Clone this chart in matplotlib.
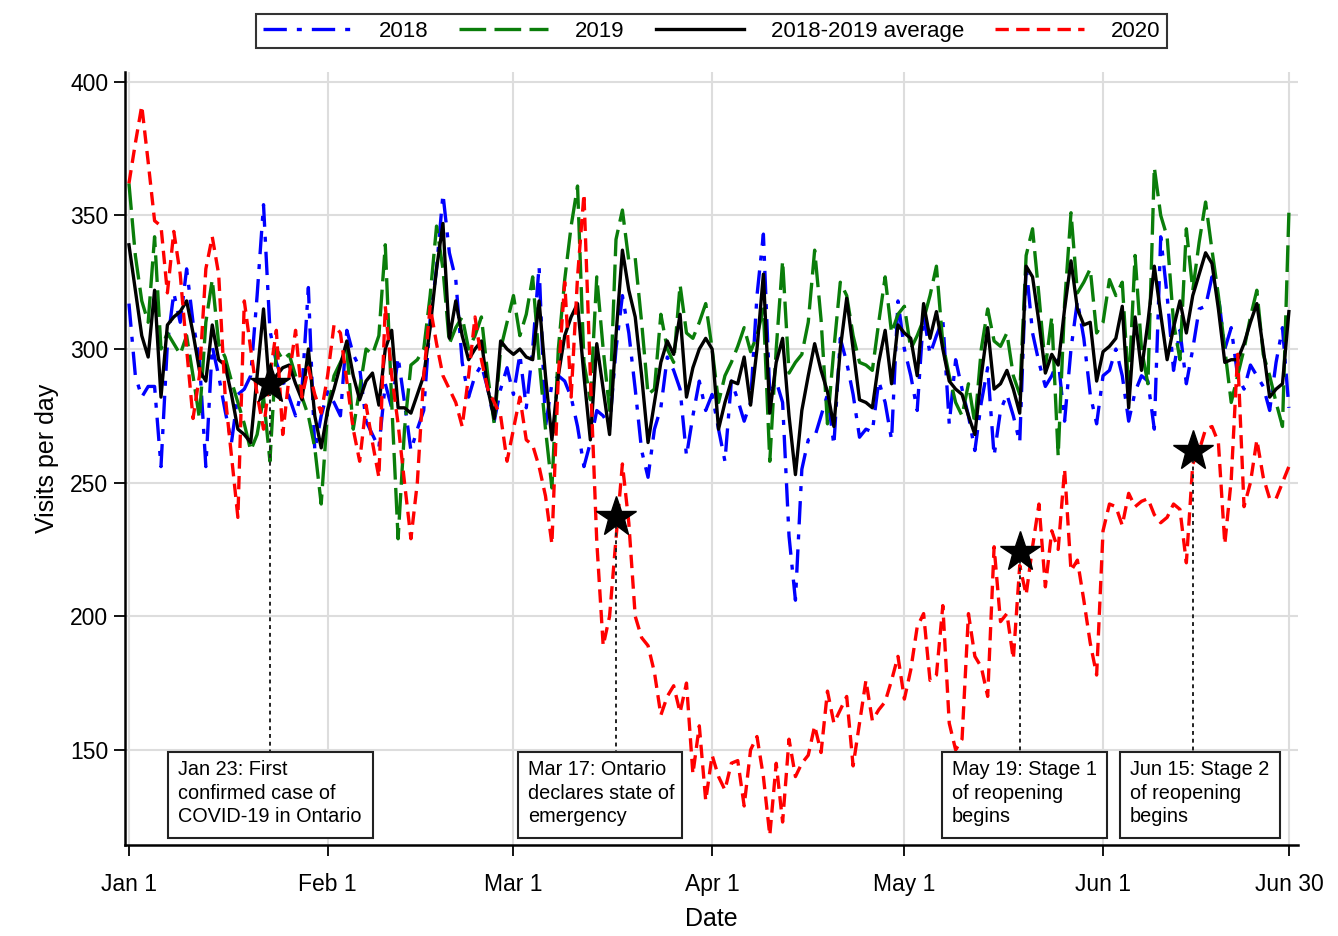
import numpy as np
import matplotlib
matplotlib.use('Agg')
import matplotlib.pyplot as plt
from matplotlib.patches import Rectangle

# daily visits, Jan 1 (day 0) .. Jun 30 (day 181)
visits_2018 = [
    317, 290, 282, 286, 286, 256, 302, 321, 310, 330,
    310, 296, 256, 301, 290, 277, 265, 283, 285, 290,
    320, 354, 307, 295, 288, 282, 275, 285, 323, 262,
    275, 284, 280, 275, 307, 298, 293, 273, 268, 263,
    287, 278, 297, 280, 262, 270, 277, 311, 330, 358,
    336, 326, 295, 282, 290, 294, 285, 273, 285, 293,
    283, 298, 278, 300, 331, 271, 287, 290, 288, 282,
    271, 256, 265, 277, 275, 271, 300, 320, 306, 285,
    262, 252, 270, 278, 297, 292, 285, 260, 275, 288,
    277, 283, 270, 258, 288, 281, 273, 280, 320, 343,
    283, 288, 280, 230, 206, 255, 266, 267, 275, 283,
    264, 304, 295, 283, 267, 270, 269, 288, 280, 266,
    318, 300, 290, 277, 313, 298, 305, 311, 272, 296,
    285, 275, 262, 280, 293, 260, 277, 283, 275, 265,
    331, 306, 295, 286, 290, 296, 273, 300, 318, 304,
    283, 272, 290, 292, 300, 290, 273, 284, 290, 288,
    270, 342, 320, 292, 307, 287, 300, 315, 316, 327,
    320, 300, 308, 290, 285, 294, 290, 286, 277, 295, 308, 278,
]

visits_2019 = [
    362, 335, 318, 310, 342, 300, 306, 302, 298, 305,
    290, 274, 310, 326, 302, 297, 288, 280, 272, 262,
    268, 282, 258, 300, 296, 298, 290, 282, 275, 263,
    242, 277, 290, 295, 300, 270, 285, 300, 298, 305,
    339, 280, 229, 270, 294, 296, 300, 320, 346, 330,
    302, 308, 312, 300, 305, 312, 290, 272, 300, 310,
    320, 305, 313, 327, 296, 270, 248, 300, 326, 346,
    361, 295, 281, 327, 300, 277, 341, 352, 333, 334,
    310, 283, 285, 313, 300, 295, 324, 306, 304, 310,
    317, 300, 280, 290, 295, 301, 308, 299, 305, 315,
    258, 300, 333, 291, 295, 298, 310, 337, 311, 272,
    300, 325, 320, 305, 295, 294, 292, 310, 327, 306,
    313, 316, 300, 305, 311, 320, 331, 302, 290, 280,
    275, 287, 272, 300, 315, 303, 301, 306, 290, 283,
    335, 345, 320, 293, 312, 260, 317, 351, 321, 325,
    330, 306, 310, 326, 320, 325, 285, 335, 300, 287,
    368, 350, 342, 310, 296, 345, 322, 340, 355, 337,
    320, 300, 280, 290, 300, 312, 322, 298, 290, 280, 271, 351,
]

visits_avg = [
    339, 322, 305, 297, 322, 282, 309, 312, 314, 318,
    306, 292, 288, 309, 296, 294, 283, 270, 268, 265,
    290, 315, 283, 290, 293, 294, 287, 281, 300, 275,
    263, 277, 285, 294, 303, 290, 281, 288, 291, 279,
    300, 307, 278, 278, 276, 283, 290, 308, 330, 347,
    304, 318, 305, 296, 300, 303, 285, 274, 303, 300,
    298, 300, 297, 296, 318, 290, 266, 290, 305, 312,
    317, 290, 266, 302, 285, 268, 305, 337, 322, 312,
    290, 265, 280, 295, 303, 298, 313, 282, 293, 300,
    304, 300, 270, 280, 288, 287, 297, 279, 300, 328,
    276, 295, 304, 275, 253, 277, 290, 302, 292, 284,
    271, 300, 319, 300, 281, 280, 278, 295, 307, 287,
    309, 306, 304, 290, 317, 304, 314, 300, 288, 285,
    283, 275, 268, 290, 308, 285, 287, 292, 285, 276,
    331, 327, 310, 291, 298, 294, 315, 333, 315, 309,
    310, 288, 299, 301, 304, 316, 278, 312, 292, 310,
    331, 313, 296, 308, 318, 306, 320, 328, 336, 332,
    315, 295, 296, 296, 302, 310, 317, 300, 282, 285, 287, 314,
]

visits_2020 = [
    362, 377, 391, 370, 348, 346, 321, 344, 328, 300,
    274, 290, 330, 342, 328, 283, 260, 237, 318, 300,
    283, 270, 290, 307, 268, 290, 307, 282, 293, 283,
    276, 290, 309, 306, 288, 270, 258, 279, 265, 252,
    316, 290, 272, 250, 229, 250, 290, 316, 302, 290,
    285, 280, 271, 290, 312, 296, 285, 280, 275, 258,
    270, 282, 266, 264, 256, 245, 227, 290, 325, 282,
    327, 358, 290, 228, 189, 200, 229, 257, 235, 200,
    192, 189, 179, 163, 170, 174, 164, 175, 141, 159,
    131, 148, 140, 135, 145, 146, 129, 150, 155, 140,
    118, 145, 123, 154, 140, 145, 148, 159, 149, 172,
    160, 165, 170, 144, 160, 176, 161, 165, 168, 176,
    185, 169, 180, 196, 201, 176, 178, 204, 160, 150,
    154, 201, 185, 181, 170, 226, 198, 201, 184, 219,
    208, 226, 242, 211, 232, 225, 255, 217, 221, 206,
    190, 178, 232, 242, 241, 234, 246, 241, 243, 244,
    238, 235, 237, 242, 240, 220, 257, 262, 270, 271,
    265, 227, 251, 298, 241, 250, 266, 252, 244, 244, 250, 256,
]

tick_days = [0, 31, 60, 91, 121, 152, 181]
tick_labels = ['Jan 1', 'Feb 1', 'Mar 1', 'Apr 1', 'May 1', 'Jun 1', 'Jun 30']

event_days = [22, 76, 139, 166]
event_values = [287, 237, 224, 262]
event_labels = [
    'Jan 23: First\nconfirmed case of\nCOVID-19 in Ontario',
    'Mar 17: Ontario\ndeclares state of\nemergency',
    'May 19: Stage 1\nof reopening\nbegins',
    'Jun 15: Stage 2\nof reopening\nbegins',
]
# box left/right edges in days
box_edges = [(6.1, 38.1), (60.7, 86.3), (126.8, 152.6), (154.6, 179.6)]

plt.rcParams['font.family'] = ['Liberation Sans', 'DejaVu Sans']

days = np.arange(len(visits_2020))

fig = plt.figure(figsize=(13.38, 9.36), dpi=100)
ax = fig.add_axes([0.0934, 0.0972, 0.8766, 0.826])

lw = 2.4
ax.plot(days, visits_2018, color='#0000ff', lw=lw, linestyle=(0, (7, 3, 1.5, 3)), label='2018')
ax.plot(days, visits_2019, color='#0a7d0a', lw=lw, linestyle=(0, (8, 2.5)), label='2019')
ax.plot(days, visits_avg, color='black', lw=lw, label='2018-2019 average')
ax.plot(days, visits_2020, color='#ff0000', lw=lw, linestyle=(0, (4, 2.2)), label='2020')

ybox_top, ybox_bot = 149.3, 117.2
for d, v, txt, (x0, x1) in zip(event_days, event_values, event_labels, box_edges):
    ax.plot([d, d], [v, ybox_top], color='#222222', lw=1.4, linestyle=(0, (2, 2)), zorder=4)
    ax.plot(d, v, marker='*', ms=30, color='black', mec='black', zorder=6)
    ax.add_patch(Rectangle((x0, ybox_bot), x1 - x0, ybox_top - ybox_bot,
                           facecolor='white', edgecolor='#222222', lw=1.5, zorder=5))
    ax.text(x0 + 1.6, ybox_top - 3.2, txt, ha='left', va='top', fontsize=14.3,
            linespacing=1.28, zorder=7)

ax.set_xlim(-0.62, 182.4)
ax.set_ylim(114.4, 403.7)
ax.set_xticks(tick_days)
ax.set_xticklabels(tick_labels)
ax.set_yticks([150, 200, 250, 300, 350, 400])
ax.tick_params(labelsize=16.5, length=8, width=1.3, direction='out')
ax.tick_params(axis='x', pad=12)
ax.tick_params(axis='y', pad=4)
ax.grid(True, color='#dddddd', lw=1.5)
ax.set_axisbelow(True)
for s in ['top', 'right']:
    ax.spines[s].set_visible(False)
for s in ['left', 'bottom']:
    ax.spines[s].set_linewidth(1.8)

ax.set_xlabel('Date', fontsize=18, labelpad=8)
ax.set_ylabel('Visits per day', fontsize=18, labelpad=8)

leg = fig.legend(loc='upper center', bbox_to_anchor=(0.532, 0.997), ncol=4,
                 fontsize=16, frameon=True, fancybox=False, edgecolor='black',
                 handlelength=4.0, columnspacing=1.4, handletextpad=1.2,
                 borderpad=0.3)
leg.get_frame().set_linewidth(1.5)

fig.savefig('out.png', dpi=100)
